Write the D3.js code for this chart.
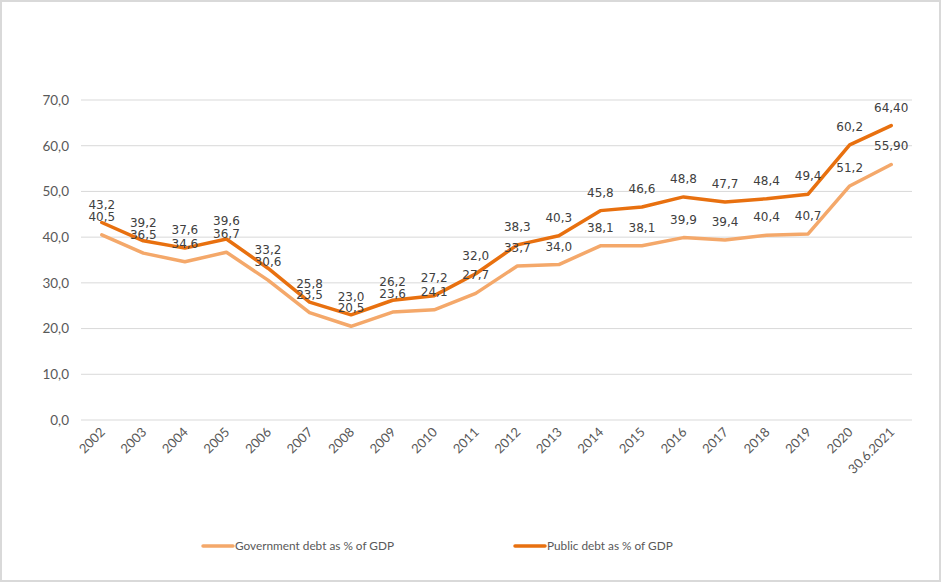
<!DOCTYPE html>
<html>
<head>
<meta charset="utf-8">
<script src="https://cdn.jsdelivr.net/npm/d3@7"></script>
<style>
html,body{margin:0;padding:0;background:#fff;}
svg{display:block;}
</style>
</head>
<body>
<svg id="chart" width="942" height="583"></svg>
<script>
const categories = ["2002","2003","2004","2005","2006","2007","2008","2009","2010","2011","2012","2013","2014","2015","2016","2017","2018","2019","2020","30.6.2021"];
const governmentDebt = [40.5,36.5,34.6,36.7,30.6,23.5,20.5,23.6,24.1,27.7,33.7,34.0,38.1,38.1,39.9,39.4,40.4,40.7,51.2,55.90];
const publicDebt = [43.2,39.2,37.6,39.6,33.2,25.8,23.0,26.2,27.2,32.0,38.3,40.3,45.8,46.6,48.8,47.7,48.4,49.4,60.2,64.40];
const yTicks = [0,10,20,30,40,50,60,70];
const seriesNames = ["Government debt as % of GDP","Public debt as % of GDP"];
const seriesColors = ["#F4A86A","#E8700F"];

const fmt1 = v => v.toFixed(1).replace(".", ",");
const labelFmt = (v, i) => i === categories.length - 1 ? v.toFixed(2).replace(".", ",") : fmt1(v);

const svg = d3.select("#chart");
const W = 942, H = 583;

// frame
svg.append("rect").attr("x",1).attr("y",1).attr("width",W-3).attr("height",H-3)
  .attr("fill","#fff").attr("stroke","#D9D9D9").attr("stroke-width",2);

const x = d3.scaleBand().domain(categories).range([81, 912]).padding(0);
const y = d3.scaleLinear().domain([0,70]).range([420, 100]);

// gridlines
svg.append("g").selectAll("line").data(yTicks).join("line")
  .attr("x1",81).attr("x2",912)
  .attr("y1",d=>y(d)).attr("y2",d=>y(d))
  .attr("stroke","#D9D9D9").attr("stroke-width",1);

// y axis labels
const yAxis = d3.axisLeft(y).tickValues(yTicks).tickFormat(fmt1).tickSize(0).tickPadding(12);
const yg = svg.append("g").attr("transform","translate(81,0)").call(yAxis);
yg.select(".domain").remove();
yg.selectAll("text").attr("fill","#595959").style("font-family","Lato, 'Open Sans', sans-serif").style("font-size","13.5px");

// x axis labels
const xAxis = d3.axisBottom(x).tickSize(0).tickPadding(0);
const xg = svg.append("g").attr("transform","translate(0,420)").call(xAxis);
xg.select(".domain").remove();
xg.selectAll("text")
  .attr("fill","#595959")
  .style("font-family","Lato, 'Open Sans', sans-serif").style("font-size","13px")
  .attr("text-anchor","end")
  .attr("dy","0")
  .attr("transform","translate(4,13) rotate(-45)");

const cx = d => x(d) + x.bandwidth()/2;
const line = d3.line().x((d,i)=>cx(categories[i])).y(d=>y(d));

const series = [governmentDebt, publicDebt];
series.forEach((s, k) => {
  svg.append("path").datum(s)
    .attr("d", line)
    .attr("fill","none")
    .attr("stroke", seriesColors[k])
    .attr("stroke-width", 3.5)
    .attr("stroke-linejoin","round")
    .attr("stroke-linecap","round");
});

// data labels
series.forEach((s, k) => {
  svg.append("g").selectAll("text").data(s).join("text")
    .attr("x",(d,i)=>cx(categories[i]))
    .attr("y",d=>y(d) - 14)
    .attr("text-anchor","middle")
    .attr("fill","#404040")
    .style("font-family","'DejaVu Sans', sans-serif")
    .style("font-size","12px")
    .text((d,i)=>labelFmt(d,i));
});

// legend
const legendItems = [{x:203},{x:515}];
legendItems.forEach((it,k)=>{
  const g = svg.append("g").attr("transform",`translate(${it.x},546)`);
  g.append("line").attr("x1",0).attr("x2",30).attr("y1",0).attr("y2",0)
    .attr("stroke",seriesColors[k]).attr("stroke-width",3.5).attr("stroke-linecap","round");
  g.append("text").attr("x",32).attr("y",0).attr("dy","0.35em")
    .attr("fill","#595959")
    .style("font-family","Lato, 'Open Sans', sans-serif").style("font-size","11.8px")
    .text(seriesNames[k]);
});
</script>
</body>
</html>
